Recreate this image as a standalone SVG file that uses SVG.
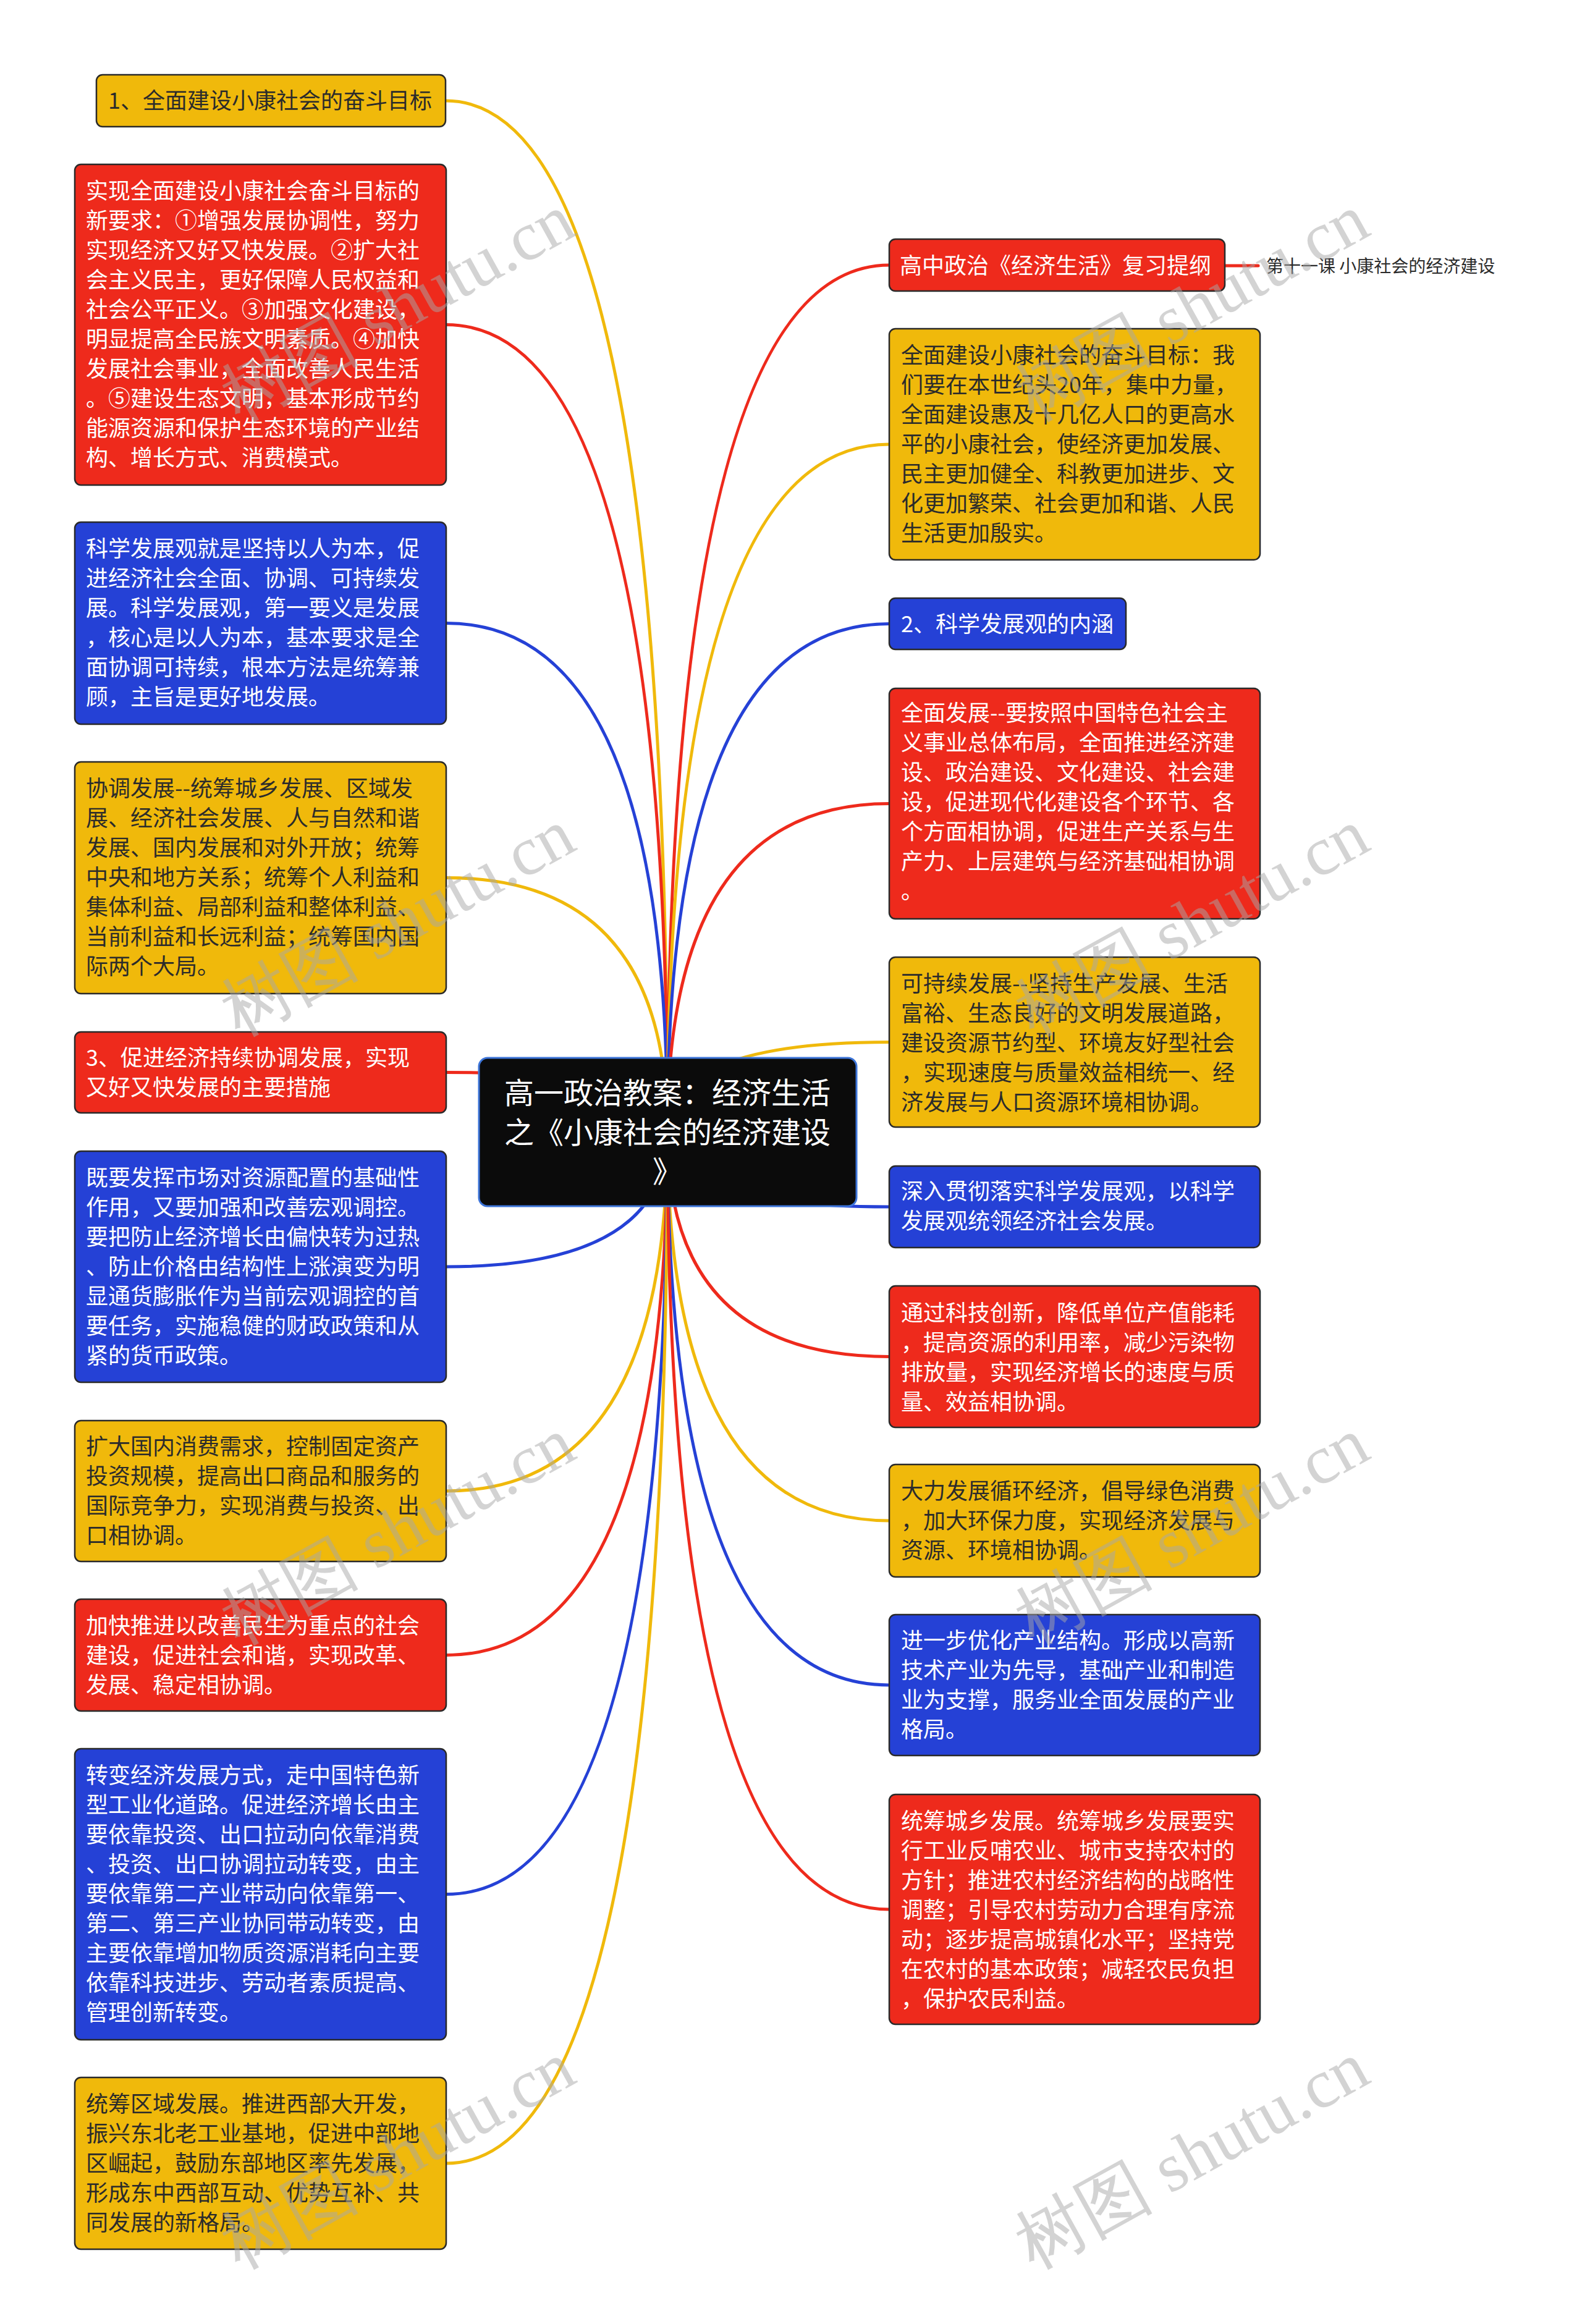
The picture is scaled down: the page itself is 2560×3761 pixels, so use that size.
<svg xmlns="http://www.w3.org/2000/svg" width="2560" height="3761" viewBox="0 0 2560 3761">
<style>
.bg{fill:#ffffff}
.ny{fill:#F0B90B;stroke:#2a2a2a;stroke-width:2.5}
.nr{fill:#EE2A1C;stroke:#2a2a2a;stroke-width:2.5}
.nb{fill:#2541D6;stroke:#2a2a2a;stroke-width:2.5}
.t{font-family:"Noto Sans CJK SC","Noto Sans",sans-serif;font-size:36px}
.tw{fill:#ffffff}
.td{fill:#2b2b2b}
.c{fill:none;stroke-width:5;stroke-linecap:round}
.cy{stroke:#F0B90B}
.cr{stroke:#EE2A1C}
.cb{stroke:#2541D6}
.wm{font-family:"Liberation Serif",serif;font-size:112px;fill:#a8a8a8;opacity:0.5;text-anchor:middle}
</style>
<rect class="bg" x="0" y="0" width="2560" height="3761"/>
<g id="connectors">
<path class="c cy" d="M1080 1832 Q1080 163 721 163"/>
<path class="c cr" d="M1080 1832 Q1080 525.5 722 525.5"/>
<path class="c cb" d="M1080 1832 Q1080 1008.5 722 1008.5"/>
<path class="c cy" d="M1080 1832 Q1080 1420.5 722 1420.5"/>
<path class="c cr" d="M1080 1832 Q1080 1735.5 722 1735.5"/>
<path class="c cb" d="M1080 1832 Q1080 2050 722 2050"/>
<path class="c cy" d="M1080 1832 Q1080 2413 722 2413"/>
<path class="c cr" d="M1080 1832 Q1080 2678.5 722 2678.5"/>
<path class="c cb" d="M1080 1832 Q1080 3065.5 722 3065.5"/>
<path class="c cy" d="M1080 1832 Q1080 3501 722 3501"/>
<path class="c cr" d="M1080 1832 Q1080 429 1439 429"/>
<path class="c cy" d="M1080 1832 Q1080 719 1439 719"/>
<path class="c cb" d="M1080 1832 Q1080 1009.5 1439 1009.5"/>
<path class="c cr" d="M1080 1832 Q1080 1300.5 1439 1300.5"/>
<path class="c cy" d="M1080 1832 Q1080 1686.5 1439 1686.5"/>
<path class="c cb" d="M1080 1832 Q1080 1953 1439 1953"/>
<path class="c cr" d="M1080 1832 Q1080 2195.5 1439 2195.5"/>
<path class="c cy" d="M1080 1832 Q1080 2461 1439 2461"/>
<path class="c cb" d="M1080 1832 Q1080 2727 1439 2727"/>
<path class="c cr" d="M1080 1832 Q1080 3090 1439 3090"/>
<path class="c cr" d="M1982 430 L2036 430"/>
</g>
<g id="center">
<rect x="775" y="1712" width="611" height="240" rx="14" fill="#0b0b0b" stroke="#3C74D8" stroke-width="3"/>
<text class="t tw" style="font-size:48px" text-anchor="middle"><tspan x="1080" y="1786">高一政治教案：经济生活</tspan><tspan x="1080" y="1850">之《小康社会的经济建设</tspan><tspan x="1080" y="1913">》</tspan></text>
</g>
<g id="L1"><rect class="ny" x="156" y="121" width="565" height="84" rx="10"/><text class="t td" x="175" y="176">1、全面建设小康社会的奋斗目标</text></g>
<g id="L2"><rect class="nr" x="121" y="266" width="601" height="519" rx="10"/><text class="t tw"><tspan x="139" y="322">实现全面建设小康社会奋斗目标的</tspan><tspan x="139" dy="48">新要求：①增强发展协调性，努力</tspan><tspan x="139" dy="48">实现经济又好又快发展。②扩大社</tspan><tspan x="139" dy="48">会主义民主，更好保障人民权益和</tspan><tspan x="139" dy="48">社会公平正义。③加强文化建设，</tspan><tspan x="139" dy="48">明显提高全民族文明素质。④加快</tspan><tspan x="139" dy="48">发展社会事业，全面改善人民生活</tspan><tspan x="139" dy="48">。⑤建设生态文明，基本形成节约</tspan><tspan x="139" dy="48">能源资源和保护生态环境的产业结</tspan><tspan x="139" dy="48">构、增长方式、消费模式。</tspan></text></g>
<g id="L3"><rect class="nb" x="121" y="845" width="601" height="327" rx="10"/><text class="t tw"><tspan x="139" y="901">科学发展观就是坚持以人为本，促</tspan><tspan x="139" dy="48">进经济社会全面、协调、可持续发</tspan><tspan x="139" dy="48">展。科学发展观，第一要义是发展</tspan><tspan x="139" dy="48">，核心是以人为本，基本要求是全</tspan><tspan x="139" dy="48">面协调可持续，根本方法是统筹兼</tspan><tspan x="139" dy="48">顾，主旨是更好地发展。</tspan></text></g>
<g id="L4"><rect class="ny" x="121" y="1233" width="601" height="375" rx="10"/><text class="t td"><tspan x="139" y="1289">协调发展--统筹城乡发展、区域发</tspan><tspan x="139" dy="48">展、经济社会发展、人与自然和谐</tspan><tspan x="139" dy="48">发展、国内发展和对外开放；统筹</tspan><tspan x="139" dy="48">中央和地方关系；统筹个人利益和</tspan><tspan x="139" dy="48">集体利益、局部利益和整体利益、</tspan><tspan x="139" dy="48">当前利益和长远利益；统筹国内国</tspan><tspan x="139" dy="48">际两个大局。</tspan></text></g>
<g id="L5"><rect class="nr" x="121" y="1670" width="601" height="131" rx="10"/><text class="t tw"><tspan x="139" y="1725">3、促进经济持续协调发展，实现</tspan><tspan x="139" dy="48">又好又快发展的主要措施</tspan></text></g>
<g id="L6"><rect class="nb" x="121" y="1863" width="601" height="374" rx="10"/><text class="t tw"><tspan x="139" y="1919">既要发挥市场对资源配置的基础性</tspan><tspan x="139" dy="48">作用，又要加强和改善宏观调控。</tspan><tspan x="139" dy="48">要把防止经济增长由偏快转为过热</tspan><tspan x="139" dy="48">、防止价格由结构性上涨演变为明</tspan><tspan x="139" dy="48">显通货膨胀作为当前宏观调控的首</tspan><tspan x="139" dy="48">要任务，实施稳健的财政政策和从</tspan><tspan x="139" dy="48">紧的货币政策。</tspan></text></g>
<g id="L7"><rect class="ny" x="121" y="2299" width="601" height="228" rx="10"/><text class="t td"><tspan x="139" y="2354">扩大国内消费需求，控制固定资产</tspan><tspan x="139" dy="48">投资规模，提高出口商品和服务的</tspan><tspan x="139" dy="48">国际竞争力，实现消费与投资、出</tspan><tspan x="139" dy="48">口相协调。</tspan></text></g>
<g id="L8"><rect class="nr" x="121" y="2588" width="601" height="181" rx="10"/><text class="t tw"><tspan x="139" y="2644">加快推进以改善民生为重点的社会</tspan><tspan x="139" dy="48">建设，促进社会和谐，实现改革、</tspan><tspan x="139" dy="48">发展、稳定相协调。</tspan></text></g>
<g id="L9"><rect class="nb" x="121" y="2830" width="601" height="471" rx="10"/><text class="t tw"><tspan x="139" y="2886">转变经济发展方式，走中国特色新</tspan><tspan x="139" dy="48">型工业化道路。促进经济增长由主</tspan><tspan x="139" dy="48">要依靠投资、出口拉动向依靠消费</tspan><tspan x="139" dy="48">、投资、出口协调拉动转变，由主</tspan><tspan x="139" dy="48">要依靠第二产业带动向依靠第一、</tspan><tspan x="139" dy="48">第二、第三产业协同带动转变，由</tspan><tspan x="139" dy="48">主要依靠增加物质资源消耗向主要</tspan><tspan x="139" dy="48">依靠科技进步、劳动者素质提高、</tspan><tspan x="139" dy="48">管理创新转变。</tspan></text></g>
<g id="L10"><rect class="ny" x="121" y="3362" width="601" height="278" rx="10"/><text class="t td"><tspan x="139" y="3418">统筹区域发展。推进西部大开发，</tspan><tspan x="139" dy="48">振兴东北老工业基地，促进中部地</tspan><tspan x="139" dy="48">区崛起，鼓励东部地区率先发展，</tspan><tspan x="139" dy="48">形成东中西部互动、优势互补、共</tspan><tspan x="139" dy="48">同发展的新格局。</tspan></text></g>
<g id="R1"><rect class="nr" x="1439" y="387" width="543" height="84" rx="10"/><text class="t tw" x="1456" y="443">高中政治《经济生活》复习提纲</text></g>
<g id="R1a"><text class="t td" style="font-size:28px" x="2049" y="441">第十一课 小康社会的经济建设</text></g>
<g id="R2"><rect class="ny" x="1439" y="532" width="600" height="374" rx="10"/><text class="t td"><tspan x="1458" y="588">全面建设小康社会的奋斗目标：我</tspan><tspan x="1458" dy="48">们要在本世纪头20年，集中力量，</tspan><tspan x="1458" dy="48">全面建设惠及十几亿人口的更高水</tspan><tspan x="1458" dy="48">平的小康社会，使经济更加发展、</tspan><tspan x="1458" dy="48">民主更加健全、科教更加进步、文</tspan><tspan x="1458" dy="48">化更加繁荣、社会更加和谐、人民</tspan><tspan x="1458" dy="48">生活更加殷实。</tspan></text></g>
<g id="R3"><rect class="nb" x="1439" y="968" width="383" height="83" rx="10"/><text class="t tw" x="1458" y="1023">2、科学发展观的内涵</text></g>
<g id="R4"><rect class="nr" x="1439" y="1114" width="600" height="373" rx="10"/><text class="t tw"><tspan x="1458" y="1167">全面发展--要按照中国特色社会主</tspan><tspan x="1458" dy="48">义事业总体布局，全面推进经济建</tspan><tspan x="1458" dy="48">设、政治建设、文化建设、社会建</tspan><tspan x="1458" dy="48">设，促进现代化建设各个环节、各</tspan><tspan x="1458" dy="48">个方面相协调，促进生产关系与生</tspan><tspan x="1458" dy="48">产力、上层建筑与经济基础相协调</tspan><tspan x="1458" dy="48">。</tspan></text></g>
<g id="R5"><rect class="ny" x="1439" y="1549" width="600" height="275" rx="10"/><text class="t td"><tspan x="1458" y="1605">可持续发展--坚持生产发展、生活</tspan><tspan x="1458" dy="48">富裕、生态良好的文明发展道路，</tspan><tspan x="1458" dy="48">建设资源节约型、环境友好型社会</tspan><tspan x="1458" dy="48">，实现速度与质量效益相统一、经</tspan><tspan x="1458" dy="48">济发展与人口资源环境相协调。</tspan></text></g>
<g id="R6"><rect class="nb" x="1439" y="1887" width="600" height="132" rx="10"/><text class="t tw"><tspan x="1458" y="1941">深入贯彻落实科学发展观，以科学</tspan><tspan x="1458" dy="48">发展观统领经济社会发展。</tspan></text></g>
<g id="R7"><rect class="nr" x="1439" y="2081" width="600" height="229" rx="10"/><text class="t tw"><tspan x="1458" y="2138">通过科技创新，降低单位产值能耗</tspan><tspan x="1458" dy="48">，提高资源的利用率，减少污染物</tspan><tspan x="1458" dy="48">排放量，实现经济增长的速度与质</tspan><tspan x="1458" dy="48">量、效益相协调。</tspan></text></g>
<g id="R8"><rect class="ny" x="1439" y="2370" width="600" height="182" rx="10"/><text class="t td"><tspan x="1458" y="2426">大力发展循环经济，倡导绿色消费</tspan><tspan x="1458" dy="48">，加大环保力度，实现经济发展与</tspan><tspan x="1458" dy="48">资源、环境相协调。</tspan></text></g>
<g id="R9"><rect class="nb" x="1439" y="2613" width="600" height="228" rx="10"/><text class="t tw"><tspan x="1458" y="2668">进一步优化产业结构。形成以高新</tspan><tspan x="1458" dy="48">技术产业为先导，基础产业和制造</tspan><tspan x="1458" dy="48">业为支撑，服务业全面发展的产业</tspan><tspan x="1458" dy="48">格局。</tspan></text></g>
<g id="R10"><rect class="nr" x="1439" y="2904" width="600" height="372" rx="10"/><text class="t tw"><tspan x="1458" y="2960">统筹城乡发展。统筹城乡发展要实</tspan><tspan x="1458" dy="48">行工业反哺农业、城市支持农村的</tspan><tspan x="1458" dy="48">方针；推进农村经济结构的战略性</tspan><tspan x="1458" dy="48">调整；引导农村劳动力合理有序流</tspan><tspan x="1458" dy="48">动；逐步提高城镇化水平；坚持党</tspan><tspan x="1458" dy="48">在农村的基本政策；减轻农民负担</tspan><tspan x="1458" dy="48">，保护农民利益。</tspan></text></g>
<g id="watermarks">
<text class="wm" x="645" y="535" transform="rotate(-29 645 500)">树图 shutu.cn</text>
<text class="wm" x="1930" y="535" transform="rotate(-29 1930 500)">树图 shutu.cn</text>
<text class="wm" x="645" y="1530" transform="rotate(-29 645 1495)">树图 shutu.cn</text>
<text class="wm" x="1930" y="1530" transform="rotate(-29 1930 1495)">树图 shutu.cn</text>
<text class="wm" x="645" y="2515" transform="rotate(-29 645 2480)">树图 shutu.cn</text>
<text class="wm" x="1930" y="2515" transform="rotate(-29 1930 2480)">树图 shutu.cn</text>
<text class="wm" x="645" y="3525" transform="rotate(-29 645 3490)">树图 shutu.cn</text>
<text class="wm" x="1930" y="3525" transform="rotate(-29 1930 3490)">树图 shutu.cn</text>
</g>
</svg>
